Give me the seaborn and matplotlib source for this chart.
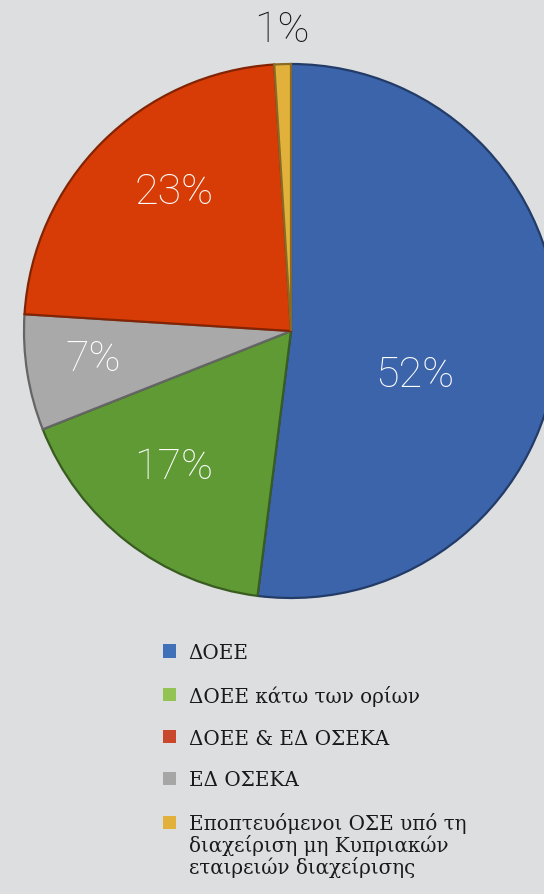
import numpy as np
import matplotlib
matplotlib.use("Agg")
import matplotlib.pyplot as plt
from matplotlib.patches import Patch
import seaborn as sns

# ============================
# Data
# ============================
labels = ["ΔΟΕΕ", "ΔΟΕΕ κάτω των ορίων", "ΔΟΕΕ & ΕΔ ΟΣΕΚΑ", "ΕΔ ΟΣΕΚΑ",
          "Εποπτευόμενοι ΟΣΕ υπό τη\nδιαχείριση μη Κυπριακών\nεταιρειών διαχείρισης"]
shares = [52, 17, 23, 7, 1]

# order the slices are drawn (clockwise from the top)
pie_order = [0, 1, 3, 2, 4]

pie_colors = ["#3b64ab", "#5f9a35", "#d83c06", "#a9a9a9", "#e2b13c"]
legend_colors = ["#3f70b8", "#92c353", "#c9472a", "#a6a6a6", "#e2b13c"]
bg = "#dcdee0"

# ============================
# Plot
# ============================
sns.set_theme(style="white")
plt.rcParams["font.family"] = ["DejaVu Serif"]

fig = plt.figure(figsize=(5.44, 8.95), dpi=100, facecolor=bg)
cx, cy, r = 291, 332, 267
W, H = 544, 895
ax = fig.add_axes([(cx - r) / W, (H - cy - r) / H, 2 * r / W, 2 * r / H])
ax.set_facecolor(bg)

vals = [shares[i] for i in pie_order]
cols = [pie_colors[i] for i in pie_order]
edge_cols = [tuple(np.array(matplotlib.colors.to_rgb(c)) * 0.6) for c in cols]
wedges, _ = ax.pie(vals, colors=cols, startangle=90, counterclock=False, radius=1)
for w, ec in zip(wedges, edge_cols):
    w.set_edgecolor(ec)
    w.set_linewidth(1.6)
ax.set_xlim(-1, 1)
ax.set_ylim(-1, 1)
ax.set_aspect("equal")
ax.axis("off")

# label placement per slice (radius, angle shift)
lab_r = [0.49, 0.67, 0.75, 0.68, 1.13]
lab_shift = [-16, -3, -1, -5, 0]
lab_col = ["white", "white", "white", "white", "#1a1a1a"]
for k, w in enumerate(wedges):
    mid = np.deg2rad((w.theta1 + w.theta2) / 2 + lab_shift[k])
    ax.text(lab_r[k] * np.cos(mid), lab_r[k] * np.sin(mid), f"{vals[k]}%",
            ha="center", va="center", color=lab_col[k], fontsize=31,
            family=["Roboto", "DejaVu Sans"], fontweight="light", clip_on=False)

# legend: first line of each label next to the swatch, extra lines below it
first_lines = [l.split("\n")[0] for l in labels]
handles = [Patch(facecolor=c, edgecolor="none") for c in legend_colors]
leg = fig.legend(handles, first_lines, loc="upper left",
                 bbox_to_anchor=(145 / W, 1 - 626 / H),
                 frameon=False, fontsize=14.3, handlelength=0.65, handleheight=0.65,
                 handletextpad=0.65, labelspacing=1.15, labelcolor="#1a1a1a")

fig.canvas.draw()
last = leg.get_texts()[-1]
bb = last.get_window_extent()
extra = labels[-1].split("\n")[1:]
for j, line in enumerate(extra):
    fig.text(bb.x0 / W, (bb.y1 - 22 * (j + 1)) / H, line, fontsize=14.3,
             color="#1a1a1a", ha="left", va="top")

fig.savefig("out.png", dpi=100, facecolor=bg)
